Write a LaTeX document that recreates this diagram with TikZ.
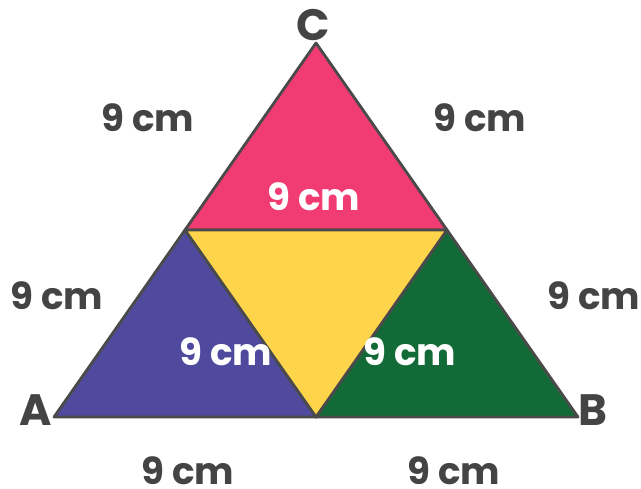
\documentclass[tikz,border=0pt]{standalone}
\usepackage{fontspec}
\setmainfont{Poppins}
\usetikzlibrary{positioning}
\usetikzlibrary{calc}
\definecolor{edgegray}{HTML}{4A4A4A}
\definecolor{textgray}{HTML}{444444}
\definecolor{pinktop}{HTML}{F03C73}
\definecolor{bluepart}{HTML}{4F4A9E}
\definecolor{yellowpart}{HTML}{FDD44A}
\definecolor{greenpart}{HTML}{126B37}

\begin{document}
\begin{tikzpicture}[x=0.02cm, y=-0.02cm]
\tikzstyle{part} = [draw=edgegray, line width=1.6pt, line join=round]
\tikzstyle{side} = [text=textgray, inner sep=0pt, font=\fontsize{21.2}{25}\selectfont\bfseries]
\tikzstyle{inner} = [text=white, inner sep=0pt, font=\fontsize{21.2}{25}\selectfont\bfseries]
\tikzstyle{vertex} = [text=textgray, inner sep=0pt, font=\fontsize{25}{30}\selectfont\bfseries]

\useasboundingbox (0,0) rectangle (641,489);

% Corners
\coordinate (A) at (54,417);
\coordinate (B) at (578,417);
\coordinate (C) at (316,43);

% Midpoints
\coordinate (mca) at ($(C)!0.5!(A)$);
\coordinate (mbc) at ($(B)!0.5!(C)$);
\coordinate (mab) at ($(A)!0.5!(B)$);

% Parts
\draw[part, fill=pinktop] (C) -- (mca) -- (mbc) -- cycle;
\draw[part, fill=bluepart] (A) -- (mab) -- (mca) -- cycle;
\draw[part, fill=greenpart] (B) -- (mbc) -- (mab) -- cycle;
\draw[part, fill=yellowpart] (mca) -- (mbc) -- (mab) -- cycle;

% Corner labels
\node (la) [vertex] at (36,410) {A};
\node (lb) [vertex] at (593,410) {B};
\node (lc) [vertex] at (313,25) {C};

% Outer lengths
\node (s1) [side] at (148,118) {9 cm};
\node (s2) [side] at (480,118) {9 cm};
\node (s3) [side] at (57,296) {9 cm};
\node (s4) [side] at (594,296) {9 cm};
\node (s5) [side] at (188,471) {9 cm};
\node (s6) [side] at (454,471) {9 cm};

% Inner lengths
\node (i1) [inner] at (314,197) {9 cm};
\node (i2) [inner] at (226,352) {9 cm};
\node (i3) [inner] at (410,352) {9 cm};
\end{tikzpicture}
\end{document}
